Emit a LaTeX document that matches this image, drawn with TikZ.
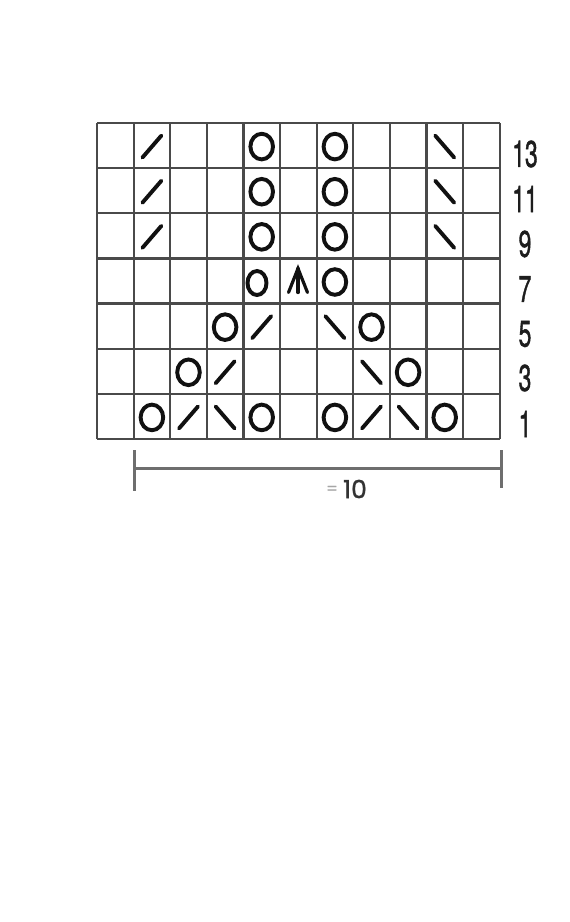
\documentclass[tikz,border=0pt]{standalone}
\usepackage{fontspec}
\setmainfont{TeX Gyre Heros}
\newfontfamily\labfont[FakeBold=1.6]{TeX Gyre Heros}
\newfontfamily\measfont[FakeBold=1.2]{Poppins}
\definecolor{gridc}{HTML}{4A4A4A}
\definecolor{symc}{HTML}{111111}
\definecolor{measc}{HTML}{6E6E6E}
\begin{document}
\begin{tikzpicture}[x=1pt,y=-1pt,
  gridln/.style={draw=gridc, line width=2.2pt},
  sym/.style={draw=symc, line width=3.9pt, line cap=round},
  rowlabel/.style={font=\labfont\fontsize{37}{37}\selectfont, text=symc!95, xscale=0.62, inner sep=0pt},
  measln/.style={draw=measc, line width=3pt},
  yo/.pic={\draw[sym] (0,0) ellipse [x radius=11.3pt, y radius=12.8pt];},
  yosmall/.pic={\draw[sym] (0,0) ellipse [x radius=9.5pt, y radius=12pt];},
  kr/.pic={\draw[sym] (-9.5,12) -- (9.5,-10);},
  kl/.pic={\draw[sym] (-9.5,-10) -- (9.5,12);},
  cdd/.pic={\draw[sym, line width=3.2pt, line join=miter] (-9.5,11) -- (0,-13) -- (9.5,11); \draw[sym, line width=3.2pt] (0,-13) -- (0,11);}
]
\useasboundingbox (0,0) rectangle (570,922);
\fill[white] (0,0) rectangle (570,922);
% grid
\foreach \i in {0,...,11}{
  \draw[gridln] ({97+36.6*\i},123) -- ({97+36.6*\i},439);
}
\foreach \j in {0,...,7}{
  \draw[gridln] (97,{123+45.143*\j}) -- (499.6,{123+45.143*\j});
}
% yarn overs
\foreach \c/\r in {5/1,7/1,5/2,7/2,5/3,7/3,7/4,4/5,8/5,3/6,9/6,2/7,5/7,7/7,10/7}{
  \pic at ({97+36.6*(\c-0.5)},{123+45.143*(\r-0.5)+1}) {yo};
}
\pic at (257,283) {yosmall};
% right-leaning decreases
\foreach \c/\r in {2/1,2/2,2/3,5/5,4/6,3/7,8/7}{
  \pic at ({97+36.6*(\c-0.5)},{123+45.143*(\r-0.5)}) {kr};
}
% left-leaning decreases
\foreach \c/\r in {10/1,10/2,10/3,7/5,8/6,4/7,9/7}{
  \pic at ({97+36.6*(\c-0.5)},{123+45.143*(\r-0.5)}) {kl};
}
% central double decrease
\pic at (298,281.5) {cdd};
% row labels
\node[rowlabel] (r13) at (525,154) {13};
\node[rowlabel] (r11) at (525,199) {11};
\node[rowlabel] (r9) at (525,244) {9};
\node[rowlabel] (r7) at (525,289) {7};
\node[rowlabel] (r5) at (525,334) {5};
\node[rowlabel] (r3) at (525,378) {3};
\node[rowlabel] (r1) at (525,424) {1};
% measurement
\coordinate (mL) at (134,468);
\coordinate (mR) at (501,468);
\coordinate (mLt) at (134,450);
\coordinate (mLb) at (134,491);
\coordinate (mRt) at (501,450);
\coordinate (mRb) at (501,488);
\draw[measln] (mL) -- (mR);
\draw[measln] (mLt) -- (mLb);
\draw[measln] (mRt) -- (mRb);
\node[font=\measfont\fontsize{16}{16}\selectfont, text=black!35, inner sep=0pt] (eq) at (332,490) {=};
\node[font=\measfont\fontsize{25}{25}\selectfont, text=black!80, inner sep=0pt] (ten) at (355,489) {10};
\end{tikzpicture}
\end{document}
